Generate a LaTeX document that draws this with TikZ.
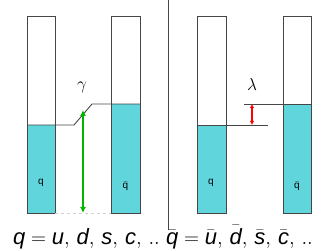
\documentclass[tikz,border=0pt]{standalone}
\usepackage{fontspec}
\setmainfont{Liberation Sans}
\usetikzlibrary{arrows.meta}
\definecolor{tube}{RGB}{96,214,220}
\definecolor{edge}{RGB}{70,70,70}
\definecolor{arrgreen}{RGB}{0,180,0}
\tikzset{
  tubefill/.style={fill=tube},
  tubeline/.style={draw=edge,line width=0.9pt},
  level/.style={draw=edge,line width=0.9pt},
  small/.style={font=\fontsize{10}{12}\selectfont},
  big/.style={font=\fontsize{22}{26}\selectfont,inner sep=0pt},
  greek/.style={font=\fontsize{17}{20}\selectfont},
}
\newcommand{\iq}[1]{\mbox{\itshape #1}}
\begin{document}
\begin{tikzpicture}[x=1pt,y=-1pt]
\useasboundingbox (0,0) rectangle (327,251);
% left panel
\fill[tubefill] (27,125) rectangle (55,213);
\fill[tubefill] (111,104) rectangle (140,213);
\draw[tubeline] (27,16) rectangle (55,213);
\draw[tubeline] (111,16) rectangle (140,213);
\coordinate (la) at (55,125);
\coordinate (lb) at (74,125);
\coordinate (lc) at (92,104);
\coordinate (ld) at (140,104);
\draw[level] (27,125) -- (la) -- (lb) -- (lc) -- (ld);
\draw[gray!35,dashed,line width=0.6pt] (55,213) -- (111,213);
\coordinate (ga) at (83,110);
\coordinate (gb) at (83,213);
\draw[arrgreen,line width=2.4pt,{Latex[length=6pt,width=6pt]}-{Latex[length=6pt,width=6pt]}] (ga) -- (gb);
\node[greek] (gamma) at (82,87) {$\gamma$};
\node[small] (q1) at (41,183) {q};
\node[small] (qb1) at (125.5,186) {$\bar{\mbox{q}}$};
% divider
\draw[edge,line width=0.8pt] (168,0) -- (168,230);
% right panel
\fill[tubefill] (197,125) rectangle (226,213);
\fill[tubefill] (283,104) rectangle (311,213);
\draw[tubeline] (197,16) rectangle (226,213);
\draw[tubeline] (283,16) rectangle (311,213);
\coordinate (ra) at (268,125);
\coordinate (rb) at (244,104);
\draw[level] (197,125) -- (ra);
\draw[level] (rb) -- (311,104);
\coordinate (rt) at (252,104);
\coordinate (rd) at (252,125);
\draw[red,line width=1.6pt,{Latex[length=4pt,width=4.5pt]}-{Latex[length=4pt,width=4.5pt]}] (rt) -- (rd);
\node[greek] (lambda) at (252,85) {$\lambda$};
\node[small] (q2) at (211,183) {q};
\node[small] (qb2) at (297,186) {$\bar{\mbox{q}}$};
% bottom labels
\node[big,anchor=base west] (lq) at (13,244) {$\iq{q}=\iq{u},\,\iq{d},\,\iq{s},\,\iq{c},\,..$};
\node[big,anchor=base west] (rq) at (166,244) {$\bar{\iq{q}}=\bar{\iq{u}},\,\bar{\iq{d}},\,\bar{\iq{s}},\,\bar{\iq{c}},\,..$};
\end{tikzpicture}
\end{document}
